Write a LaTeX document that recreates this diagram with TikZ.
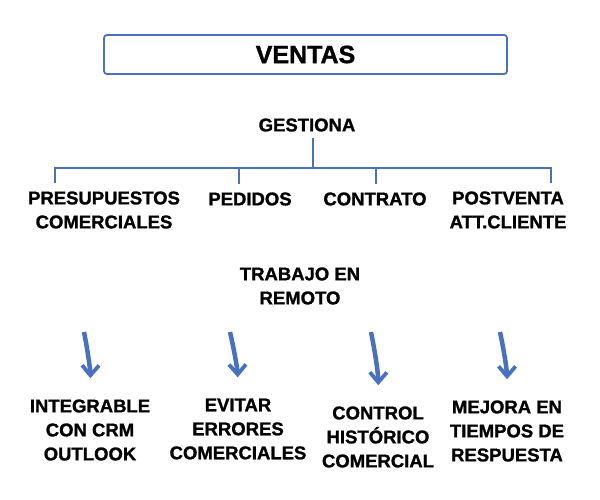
\documentclass[tikz,border=0pt]{standalone}
\usepackage{fontspec}
\setmainfont{Liberation Sans}[BoldFeatures={FakeBold=1.2}]
\usetikzlibrary{arrows.meta}
\definecolor{ventasblue}{RGB}{72,114,192}

\begin{document}
\begin{tikzpicture}[x=1pt,y=-1pt,
	every node/.style={font=\bfseries\fontsize{18.5}{24}\selectfont, align=center, inner sep=0pt},
	rama/.style={draw=ventasblue, line width=2.4pt},
	flecha/.style={draw=ventasblue, line width=4.5pt, shorten >=21pt,
		-{Straight Barb[length=10pt,width=17pt,line width=3.8pt]}}]
\useasboundingbox (0,0) rectangle (600,500);

	% title
\path
	(305.5,54.5) node [draw=ventasblue, line width=1.8pt, rounded corners=3pt,
		minimum width=403pt, minimum height=39pt,
		font=\bfseries\fontsize{25}{30}\selectfont] (ventas) {VENTAS}
	;

	% gestiona
\path
	(307,125) node (gest) {GESTIONA}
	(104,210) node (pres) {PRESUPUESTOS\\COMERCIALES}
	(250,199) node (ped) {PEDIDOS}
	(375,199) node (cont) {CONTRATO}
	(508,210) node (post) {POSTVENTA\\ATT.CLIENTE}
	;

\path
	(55,168) coordinate (h1)
	(239,168) coordinate (h2)
	(313,168) coordinate (hc)
	(376,168) coordinate (h3)
	(551,168) coordinate (h4)
	;

\draw [rama] (gest.south -| hc) ++(0,6) -- (hc);
\draw [rama, shorten <=8pt, shorten >=8pt] (h1 |- pres.north) -- (h1) -- (h4) -- (h4 |- post.north);
\draw [rama, shorten >=8pt] (h2) -- (h2 |- ped.north);
\draw [rama, shorten >=8pt] (h3) -- (h3 |- cont.north);

	% trabajo en remoto
\path
	(300,286) node (trab) {TRABAJO EN\\REMOTO}
	;

\path
	(90,430) node (integ) {INTEGRABLE\\CON CRM\\OUTLOOK}
	(238,429) node (evit) {EVITAR\\ERRORES\\COMERCIALES}
	(378,437) node (ctrl) {CONTROL\\HISTÓRICO\\COMERCIAL}
	(507,431) node (mejo) {MEJORA EN\\TIEMPOS DE\\RESPUESTA}
	;

\path
	(84,332) coordinate (f1)
	(230,332) coordinate (f2)
	(371,332) coordinate (f3)
	(500,332) coordinate (f4)
	;

\draw [flecha] (f1) to [bend left=6] (integ.north);
\draw [flecha] (f2) to [bend left=6] (evit.north);
\draw [flecha] (f3) to [bend left=6] (ctrl.north);
\draw [flecha] (f4) to [bend left=6] (mejo.north);
\end{tikzpicture}
\end{document}
